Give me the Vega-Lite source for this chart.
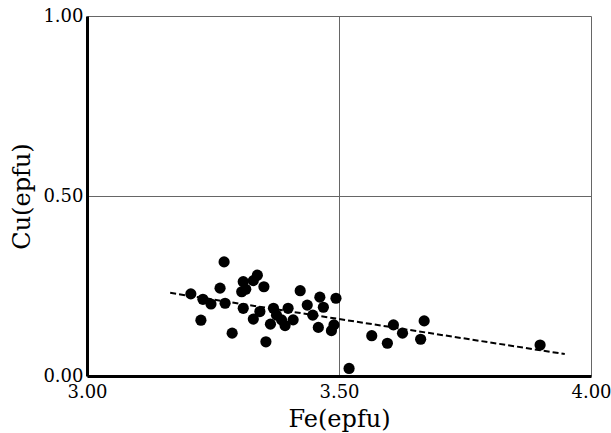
{
  "$schema": "https://vega.github.io/schema/vega-lite/v6.json",
  "width": 504,
  "height": 360,
  "autosize": {"type": "none"},
  "padding": {"left": 87, "top": 16, "right": 20, "bottom": 57},
  "background": "white",
  "config": {
    "view": {"stroke": null},
    "font": "DejaVu Serif",
    "axis": {
      "domainColor": "black",
      "domainWidth": 3,
      "ticks": false,
      "gridColor": "#666",
      "gridWidth": 1,
      "gridOpacity": 1,
      "labelFont": "DejaVu Serif",
      "labelFontSize": 18,
      "labelColor": "black",
      "titleFont": "DejaVu Serif",
      "titleFontSize": 24,
      "titleFontWeight": "normal",
      "titleColor": "black"
    }
  },
  "layer": [
    {
      "data": {"values": [
        {"fe": 3.272, "cu": 0.317}, {"fe": 3.206, "cu": 0.228}, {"fe": 3.230, "cu": 0.213},
        {"fe": 3.246, "cu": 0.200}, {"fe": 3.264, "cu": 0.244}, {"fe": 3.274, "cu": 0.202},
        {"fe": 3.226, "cu": 0.155}, {"fe": 3.288, "cu": 0.119}, {"fe": 3.310, "cu": 0.262},
        {"fe": 3.307, "cu": 0.234}, {"fe": 3.315, "cu": 0.241}, {"fe": 3.330, "cu": 0.265},
        {"fe": 3.338, "cu": 0.280}, {"fe": 3.351, "cu": 0.248}, {"fe": 3.310, "cu": 0.188},
        {"fe": 3.330, "cu": 0.158}, {"fe": 3.343, "cu": 0.179}, {"fe": 3.355, "cu": 0.095},
        {"fe": 3.364, "cu": 0.144}, {"fe": 3.370, "cu": 0.188}, {"fe": 3.376, "cu": 0.169},
        {"fe": 3.386, "cu": 0.156}, {"fe": 3.393, "cu": 0.140}, {"fe": 3.399, "cu": 0.188},
        {"fe": 3.409, "cu": 0.156}, {"fe": 3.423, "cu": 0.237}, {"fe": 3.437, "cu": 0.197},
        {"fe": 3.448, "cu": 0.169}, {"fe": 3.462, "cu": 0.219}, {"fe": 3.469, "cu": 0.191},
        {"fe": 3.459, "cu": 0.135}, {"fe": 3.485, "cu": 0.126}, {"fe": 3.490, "cu": 0.142},
        {"fe": 3.494, "cu": 0.216}, {"fe": 3.520, "cu": 0.021}, {"fe": 3.565, "cu": 0.112},
        {"fe": 3.608, "cu": 0.142}, {"fe": 3.596, "cu": 0.091}, {"fe": 3.626, "cu": 0.119},
        {"fe": 3.669, "cu": 0.153}, {"fe": 3.662, "cu": 0.102}, {"fe": 3.899, "cu": 0.086}
      ]},
      "mark": {"type": "point", "filled": true, "shape": "circle", "size": 125, "color": "black", "opacity": 1},
      "encoding": {
        "x": {"field": "fe", "type": "quantitative", "title": "Fe(epfu)",
              "scale": {"domain": [3, 4], "nice": false, "zero": false},
              "axis": {"values": [3, 3.5, 4], "format": ".2f", "labelPadding": 7, "titlePadding": 6, "labelFlush": false}},
        "y": {"field": "cu", "type": "quantitative", "title": "Cu(epfu)",
              "scale": {"domain": [0, 1], "nice": false},
              "axis": {"values": [0, 0.5, 1], "format": ".2f", "labelPadding": 4, "titlePadding": 8, "labelFlush": false}}
      }
    },
    {
      "data": {"values": [{"fe": 3.165, "cu": 0.231}, {"fe": 3.948, "cu": 0.061}]},
      "mark": {"type": "line", "color": "black", "strokeWidth": 2, "strokeDash": [6, 3]},
      "encoding": {
        "x": {"field": "fe", "type": "quantitative"},
        "y": {"field": "cu", "type": "quantitative"}
      }
    }
  ]
}
